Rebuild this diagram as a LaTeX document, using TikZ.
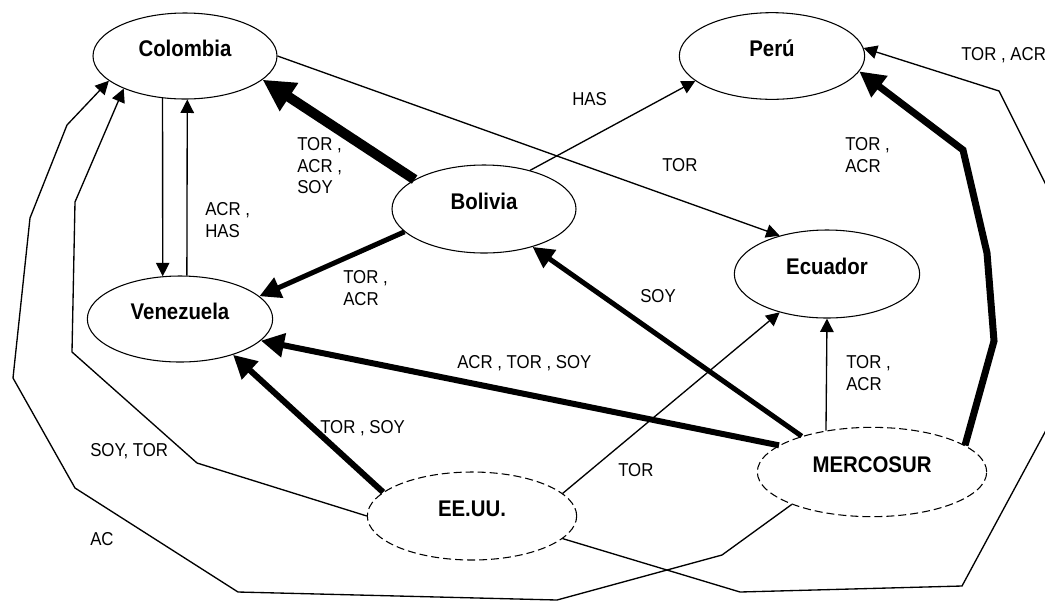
\documentclass[tikz,border=0pt]{standalone}
\usepackage{fontspec}
\setmainfont{Liberation Sans}[FakeStretch=0.9]
\usetikzlibrary{shapes.geometric,arrows.meta}

\begin{document}
\begin{tikzpicture}[x=0.75pt, y=-0.75pt,
  country/.style={ellipse, draw, line width=0.8pt, inner sep=0pt,
    text height=11pt, text depth=11pt, font=\fontsize{17}{20}\selectfont\bfseries},
  bloc/.style={country, dash pattern=on 6pt off 3pt},
  lbl/.style={inner sep=0pt, anchor=north west, align=left,
    font=\fontsize{14}{16.3}\selectfont},
  link/.style={line width=#1, -{Triangle[length=8pt 2.1, width=8pt 2.1]}},
  link/.default=1pt]

\useasboundingbox (0,0) rectangle (1045,601) ;
\clip (0,0) rectangle (1045,601) ;

\node[country, minimum width=138pt, minimum height=64.5pt] (col) at (185,56) {Colombia} ;
\node[country, minimum width=139pt, minimum height=65pt] (peru) at (772,56) {Perú} ;
\node[country, minimum width=138pt, minimum height=66pt] (bol) at (484,209) {Bolivia} ;
\node[country, minimum width=139pt, minimum height=66pt] (ecu) at (827,274) {Ecuador} ;
\node[country, minimum width=139pt, minimum height=64.5pt] (ven) at (180,319) {Venezuela} ;
\node[bloc, minimum width=157pt, minimum height=66pt] (eeuu) at (472,516) {EE.UU.} ;
\node[bloc, minimum width=172pt, minimum height=67pt] (mer) at (872,472) {MERCOSUR} ;

\draw[link] (col.242) -- (ven.112) ;
\draw[link] (ven.81) -- (col.273) ;
\draw[link=7.5pt] (bol.157) -- (col.343) ;
\draw[link=3.75pt] (bol.196) -- (ven.16) ;
\draw[link] (bol.40) -- (peru.198) ;
\draw[link] (col.east) -- (ecu.141) ;
\draw[link=3.75pt] (mer.153) -- (bol.322) ;
\draw[link=4.5pt] (mer.164) -- (ven.345) ;
\draw[link] (mer.138) -- (ecu.south) ;
\draw[link=5.25pt] (mer.16) -- (994,341) -- (987,253) -- (963,150) -- (peru.350) ;
\draw[link=4.5pt] (eeuu.165) -- (ven.326) ;
\draw[link] (eeuu.14) -- (ecu.219) ;

\draw[link] (mer.202) -- (722,555) -- (557,600) -- (238,592) -- (75,488) -- (13,378)
  -- (30,218) -- (67,125) -- (col.198) ;
\draw[link] (eeuu.west) -- (197,463) -- (72,352) -- (75,202) -- (col.208) ;
\draw[link] (eeuu.346) -- (740,592) -- (962,586) -- (1058,408) -- (1058,209)
  -- (999,91) -- (peru.5) ;

\node[lbl] (l-venc) at (205,202) {ACR ,\\HAS} ;
\node[lbl] (l-bolc) at (297,137) {TOR ,\\ACR ,\\SOY} ;
\node[lbl] (l-bolv) at (343,270) {TOR ,\\ACR} ;
\node[lbl] (l-bolp) at (572,92) {HAS} ;
\node[lbl] (l-cole) at (662,158) {TOR} ;
\node[lbl] (l-merp) at (845,137) {TOR ,\\ACR} ;
\node[lbl] (l-eeup) at (961,47) {TOR , ACR} ;
\node[lbl] (l-merb) at (640,289) {SOY} ;
\node[lbl] (l-merv) at (457,355) {ACR , TOR , SOY} ;
\node[lbl] (l-mere) at (846,355) {TOR ,\\ACR} ;
\node[lbl] (l-eeuv) at (320,420) {TOR , SOY} ;
\node[lbl] (l-eeue) at (618,463) {TOR} ;
\node[lbl] (l-eeuc) at (90,443) {SOY, TOR} ;
\node[lbl] (l-merc) at (90,532) {AC} ;
\end{tikzpicture}
\end{document}
